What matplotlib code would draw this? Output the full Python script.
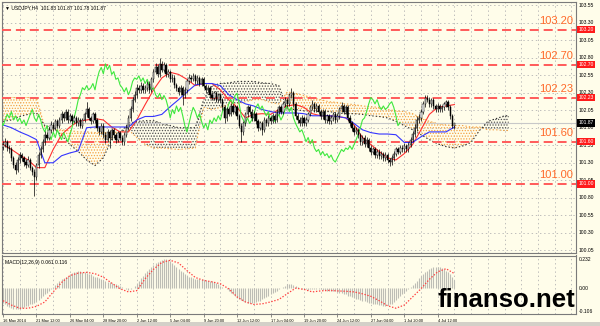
import matplotlib
matplotlib.use("Agg")
import numpy as np
import matplotlib.pyplot as plt
import matplotlib.transforms as mtransforms

plt.rcParams['font.family'] = ['Liberation Sans', 'DejaVu Sans']
plt.rcParams['hatch.linewidth'] = 0.6
plt.rcParams['lines.scale_dashes'] = False

# ---- USDJPY H4, values ----
first_open = 101.52
closes = [101.56, 101.60, 101.51, 101.49, 101.37, 101.27, 101.20, 101.34, 101.41, 101.37,
          101.31, 101.27, 101.34, 101.23, 101.17, 101.09, 101.27, 101.41, 101.49, 101.60,
          101.70, 101.66, 101.77, 101.84, 101.80, 101.89, 101.83, 101.91, 101.99, 101.94,
          102.03, 101.91, 101.97, 101.89, 101.94, 101.86, 101.91, 101.83, 101.91, 101.99,
          102.06, 101.94, 101.89, 101.99, 101.91, 101.80, 101.74, 101.83, 101.70, 101.63,
          101.74, 101.66, 101.77, 101.69, 101.63, 101.73, 101.66, 101.60, 101.70, 101.80,
          101.94, 102.06, 102.20, 102.27, 102.37, 102.34, 102.40, 102.34, 102.37, 102.43,
          102.34, 102.49, 102.60, 102.66, 102.57, 102.71, 102.63, 102.69, 102.56, 102.60,
          102.49, 102.51, 102.41, 102.37, 102.31, 102.37, 102.27, 102.34, 102.46, 102.51,
          102.49, 102.54, 102.46, 102.51, 102.43, 102.49, 102.40, 102.34, 102.37, 102.27,
          102.23, 102.29, 102.20, 102.26, 102.20, 102.09, 101.94, 102.06, 102.00, 102.11,
          102.03, 102.09, 101.97, 101.83, 101.74, 101.86, 101.99, 102.09, 102.03, 101.94,
          102.00, 101.89, 101.80, 101.86, 101.77, 101.91, 101.86, 101.94, 101.89, 101.97,
          101.91, 102.03, 102.09, 102.03, 102.14, 102.20, 102.14, 102.26, 102.29, 102.14,
          101.97, 101.91, 101.86, 101.94, 101.86, 101.91, 101.99, 102.09, 102.14, 102.06,
          102.11, 102.03, 101.97, 102.03, 101.91, 101.97, 101.89, 101.94, 101.99, 101.91,
          101.97, 102.06, 102.11, 102.03, 102.09, 101.94, 101.86, 101.80, 101.74, 101.77,
          101.69, 101.60, 101.66, 101.57, 101.63, 101.51, 101.46, 101.49, 101.41, 101.46,
          101.40, 101.43, 101.37, 101.41, 101.34, 101.31, 101.37, 101.43, 101.49, 101.46,
          101.51, 101.49, 101.54, 101.49, 101.56, 101.63, 101.71, 101.80, 101.91, 101.94,
          102.03, 102.14, 102.23, 102.20, 102.14, 102.20, 102.11, 102.06, 102.11, 102.06,
          102.09, 102.14, 102.17, 102.09, 101.97, 101.83, 101.87]
highs = [101.61, 101.66, 101.63, 101.55, 101.52, 101.40, 101.31, 101.38, 101.45, 101.44,
         101.40, 101.35, 101.39, 101.37, 101.26, 101.21, 101.30, 101.45, 101.54, 101.64,
         101.75, 101.74, 101.81, 101.89, 101.88, 101.93, 101.92, 101.95, 102.04, 102.02,
         102.07, 102.06, 102.01, 102.00, 101.98, 101.97, 101.95, 101.94, 101.94, 102.03,
         102.17, 102.09, 101.97, 102.03, 102.02, 101.94, 101.83, 101.87, 101.86, 101.74,
         101.78, 101.77, 101.80, 101.79, 101.72, 101.76, 101.76, 101.69, 101.74, 101.84,
         101.98, 102.11, 102.24, 102.33, 102.42, 102.41, 102.45, 102.44, 102.41, 102.47,
         102.47, 102.53, 102.64, 102.72, 102.70, 102.80, 102.75, 102.73, 102.72, 102.64,
         102.63, 102.56, 102.55, 102.44, 102.40, 102.41, 102.40, 102.38, 102.50, 102.56,
         102.55, 102.58, 102.57, 102.55, 102.54, 102.53, 102.52, 102.43, 102.41, 102.40,
         102.31, 102.33, 102.32, 102.30, 102.29, 102.23, 102.12, 102.10, 102.09, 102.15,
         102.14, 102.13, 102.12, 102.00, 101.87, 101.90, 102.03, 102.13, 102.12, 102.06,
         102.04, 102.03, 101.92, 101.89, 101.89, 101.95, 101.94, 101.98, 101.97, 102.01,
         102.00, 102.07, 102.13, 102.12, 102.18, 102.24, 102.23, 102.30, 102.37, 102.32,
         102.17, 102.01, 101.95, 101.98, 101.97, 101.95, 102.03, 102.13, 102.20, 102.17,
         102.15, 102.14, 102.06, 102.07, 102.06, 102.00, 102.00, 101.98, 102.03, 102.02,
         102.01, 102.10, 102.17, 102.14, 102.13, 102.12, 101.98, 101.90, 101.84, 101.81,
         101.80, 101.72, 101.70, 101.69, 101.67, 101.66, 101.55, 101.53, 101.52, 101.50,
         101.49, 101.47, 101.46, 101.45, 101.44, 101.37, 101.41, 101.47, 101.53, 101.52,
         101.55, 101.55, 101.58, 101.57, 101.60, 101.67, 101.75, 101.85, 101.96, 101.99,
         102.07, 102.18, 102.27, 102.26, 102.24, 102.23, 102.23, 102.14, 102.15, 102.14,
         102.12, 102.17, 102.20, 102.19, 102.12, 102.00, 101.87]
lows = [101.48, 101.52, 101.47, 101.44, 101.33, 101.22, 101.14, 101.17, 101.30, 101.33,
        101.26, 101.22, 101.24, 101.19, 101.12, 100.83, 101.05, 101.23, 101.37, 101.45,
        101.56, 101.62, 101.62, 101.73, 101.76, 101.77, 101.79, 101.80, 101.87, 101.90,
        101.91, 101.87, 101.88, 101.85, 101.86, 101.82, 101.83, 101.79, 101.80, 101.88,
        101.95, 101.91, 101.85, 101.86, 101.87, 101.76, 101.69, 101.71, 101.66, 101.58,
        101.60, 101.51, 101.63, 101.65, 101.58, 101.60, 101.62, 101.56, 101.56, 101.67,
        101.77, 101.90, 102.02, 102.16, 102.22, 102.30, 102.30, 102.30, 102.30, 102.33,
        102.30, 102.31, 102.45, 102.56, 102.53, 102.53, 102.59, 102.59, 102.52, 102.52,
        102.45, 102.45, 102.37, 102.33, 102.26, 102.27, 102.12, 102.23, 102.30, 102.42,
        102.45, 102.46, 102.42, 102.43, 102.39, 102.40, 102.36, 102.30, 102.31, 102.23,
        102.19, 102.20, 102.16, 102.17, 102.16, 102.05, 101.86, 101.90, 101.96, 101.97,
        101.99, 101.99, 101.93, 101.79, 101.60, 101.70, 101.82, 101.95, 101.99, 101.90,
        101.90, 101.85, 101.76, 101.77, 101.70, 101.74, 101.82, 101.82, 101.85, 101.86,
        101.87, 101.88, 101.99, 101.99, 101.99, 102.10, 102.10, 102.11, 102.22, 102.10,
        101.92, 101.87, 101.82, 101.82, 101.82, 101.83, 101.88, 101.96, 102.05, 102.02,
        102.02, 101.99, 101.93, 101.93, 101.87, 101.87, 101.85, 101.85, 101.90, 101.87,
        101.88, 101.93, 102.02, 101.99, 101.99, 101.90, 101.82, 101.76, 101.70, 101.71,
        101.65, 101.55, 101.56, 101.53, 101.53, 101.47, 101.41, 101.42, 101.37, 101.37,
        101.36, 101.36, 101.33, 101.33, 101.30, 101.25, 101.27, 101.33, 101.40, 101.42,
        101.42, 101.45, 101.45, 101.45, 101.46, 101.52, 101.59, 101.67, 101.76, 101.86,
        101.90, 101.99, 102.10, 102.16, 102.10, 102.10, 102.07, 102.02, 102.02, 102.02,
        102.02, 102.05, 102.10, 102.05, 101.93, 101.80, 101.78]

# Ichimoku lines, sampled every 4th bar
line_bars = list(range(0, 217, 4))
tenkan = [101.56, 101.49, 101.41, 101.34, 101.23, 101.23, 101.49, 101.70, 101.81, 101.89,
          101.91, 101.93, 101.91, 101.81, 101.74, 101.74, 101.91, 102.13, 102.34, 102.51,
          102.59, 102.56, 102.49, 102.40, 102.43, 102.43, 102.34, 102.20, 102.09, 101.94,
          101.99, 102.00, 101.99, 102.06, 102.11, 102.13, 102.09, 102.00, 101.97, 101.97,
          101.96, 101.94, 101.84, 101.66, 101.56, 101.46, 101.37, 101.34, 101.43, 101.56,
          101.77, 101.99, 102.09, 102.11, 102.13]
kijun = [101.84, 101.80, 101.74, 101.69, 101.63, 101.30, 101.30, 101.40, 101.44, 101.47,
         101.80, 101.81, 101.81, 101.81, 101.81, 101.81, 101.91, 101.96, 101.96, 101.99,
         102.10, 102.20, 102.31, 102.41, 102.43, 102.43, 102.40, 102.27, 102.20, 102.14,
         102.11, 102.06, 102.03, 102.01, 102.01, 102.01, 102.00, 101.97, 101.97, 101.97,
         101.96, 101.94, 101.86, 101.77, 101.73, 101.71, 101.71, 101.70, 101.59, 101.59,
         101.67, 101.74, 101.74, 101.74, 101.81]
chikou_shift = 26

cloud_bars = list(range(0, 241, 4)) + [242]
span_a = [102.23, 102.23, 102.23, 102.23, 102.23, 101.80, 101.77, 101.77, 101.76, 101.74,
          101.74, 101.73, 101.73, 101.73, 101.74, 101.77, 101.66, 101.56, 101.51, 101.51,
          101.50, 101.49, 101.50, 101.51, 102.09, 102.06, 102.09, 102.13, 102.14, 102.17,
          102.20, 102.20, 102.16, 102.14, 102.31, 102.29, 102.26, 102.23, 102.20, 102.17,
          102.16, 102.14, 102.13, 102.11, 102.10, 102.09, 102.06, 102.04, 102.03, 102.00,
          101.94, 101.89, 101.86, 101.84, 101.83, 101.83, 101.81, 101.81, 101.77, 101.77,
          101.76, 101.76]
span_b = [101.89, 101.91, 101.96, 101.99, 102.01, 101.83, 101.80, 101.69, 101.56, 101.46,
          101.34, 101.26, 101.37, 101.63, 101.73, 101.86, 101.89, 101.90, 101.90, 101.86,
          101.83, 101.80, 101.80, 101.80, 102.20, 102.40, 102.43, 102.44, 102.46, 102.46,
          102.46, 102.44, 102.43, 102.40, 102.06, 102.06, 102.04, 102.04, 102.03, 102.03,
          102.01, 102.00, 102.00, 101.99, 101.97, 101.96, 101.94, 101.89, 101.83, 101.77,
          101.70, 101.63, 101.57, 101.53, 101.51, 101.54, 101.59, 101.76, 101.89, 101.93,
          101.97, 101.97]

# MACD(12,26,9)
macd_main = [-0.12, -0.13, -0.14, -0.15, -0.16, -0.165, -0.17, -0.165, -0.16, -0.155,
             -0.15, -0.145, -0.14, -0.13, -0.125, -0.12, -0.11, -0.095, -0.08, -0.065,
             -0.05, -0.035, -0.02, -0.005, 0.01, 0.025, 0.04, 0.055, 0.07, 0.08,
             0.09, 0.10, 0.11, 0.12, 0.125, 0.13, 0.135, 0.135, 0.13, 0.125,
             0.12, 0.115, 0.11, 0.10, 0.09, 0.085, 0.08, 0.07, 0.065, 0.06,
             0.05, 0.045, 0.04, 0.035, 0.03, 0.025, 0.02, 0.01, 0.0, -0.01,
             -0.015, -0.01, 0.0, 0.02, 0.04, 0.06, 0.08, 0.10, 0.12, 0.14,
             0.155, 0.17, 0.185, 0.20, 0.21, 0.22, 0.225, 0.23, 0.23, 0.225,
             0.215, 0.20, 0.185, 0.17, 0.155, 0.14, 0.125, 0.11, 0.10, 0.09,
             0.085, 0.08, 0.075, 0.075, 0.07, 0.07, 0.065, 0.065, 0.06, 0.06,
             0.055, 0.05, 0.04, 0.03, 0.02, 0.01, 0.0, -0.01, -0.02, -0.035,
             -0.05, -0.06, -0.075, -0.085, -0.095, -0.10, -0.11, -0.115, -0.12, -0.12,
             -0.115, -0.11, -0.105, -0.10, -0.09, -0.08, -0.07, -0.06, -0.05, -0.04,
             -0.03, -0.02, -0.01, 0.0, 0.01, 0.02, 0.03, 0.035, 0.03, 0.025,
             0.02, 0.01, 0.0, -0.005, -0.01, -0.01, -0.015, -0.01, -0.01, -0.005,
             -0.005, -0.01, -0.01, -0.015, -0.015, -0.02, -0.02, -0.02, -0.025, -0.025,
             -0.03, -0.035, -0.04, -0.045, -0.05, -0.06, -0.065, -0.07, -0.08, -0.085,
             -0.09, -0.095, -0.10, -0.105, -0.11, -0.115, -0.12, -0.125, -0.13, -0.13,
             -0.135, -0.135, -0.14, -0.14, -0.135, -0.13, -0.125, -0.11, -0.095, -0.08,
             -0.065, -0.05, -0.035, -0.02, -0.005, 0.01, 0.025, 0.04, 0.06, 0.08,
             0.10, 0.115, 0.13, 0.14, 0.15, 0.16, 0.165, 0.17, 0.17, 0.165,
             0.16, 0.15, 0.14, 0.125, 0.11, 0.09, 0.061]
macd_signal = [-0.10, -0.135, -0.16, -0.16, -0.145, -0.11, -0.03, 0.045, 0.10, 0.12,
               0.126, 0.115, 0.087, 0.04, -0.005, -0.03, -0.02, 0.075, 0.15, 0.205,
               0.222, 0.20, 0.14, 0.085, 0.062, 0.05, 0.035, -0.005, -0.07, -0.11,
               -0.13, -0.125, -0.11, -0.09, -0.045, 0.0, -0.01, -0.03, -0.022, -0.018,
               -0.022, -0.025, -0.03, -0.045, -0.065, -0.10, -0.14, -0.16, -0.135, -0.07,
               -0.005, 0.07, 0.13, 0.155, 0.116]

levels = [103.20, 102.70, 102.23, 101.60, 101.00]
level_labels = ["103.20", "102.70", "102.23", "101.60", "101.00"]
current_price = 101.87
price_ticks = [103.55, 103.30, 103.05, 102.80, 102.55, 102.30, 102.05, 101.80,
               101.55, 101.30, 101.05, 100.80, 100.55, 100.30, 100.05]
time_label_bars = [0, 16, 32, 48, 64, 80, 96, 112, 128, 144, 160, 176, 192, 208]
time_labels = ["16 May 2014", "21 May 12:00", "26 May 04:00", "28 May 20:00", "2 Jun 12:00",
               "5 Jun 04:00", "9 Jun 20:00", "12 Jun 12:00", "17 Jun 04:00", "19 Jun 20:00",
               "24 Jun 12:00", "27 Jun 04:00", "1 Jul 20:00", "4 Jul 12:00"]
macd_ticks = [0.232, 0.0]
macd_tick_labels = ["0.232", "0.00"]
macd_min_label = "-0.106"

BG = '#fffdea'
GRID = '#b4b4b4'
LEVEL = '#ff5a5a'
LEVEL_TXT = '#ff6a2a'
SMALL = 3.6
DATE_FS = 2.8

W, H = 600, 326
fig = plt.figure(figsize=(W / 100, H / 100), dpi=100, facecolor=BG)
ax = fig.add_axes([2 / W, 1 - 252.5 / H, 574 / W, 251 / H], facecolor=BG)
axm = fig.add_axes([2 / W, 1 - 314 / H, 574 / W, 58.5 / H], facecolor=BG)

n = len(closes)
bars = np.arange(n)
opens = np.array([first_open] + closes[:-1])
closes_a = np.array(closes)

# grid
for a in (ax, axm):
    for b in range(0, 280, 8):
        a.axvline(b, color=GRID, lw=0.6, ls=(0, (1, 2)), zorder=0)
for p in price_ticks:
    ax.axhline(p, color=GRID, lw=0.6, ls=(0, (1, 2)), zorder=0)

# cloud
ca = np.array(span_a)
cb = np.array(span_b)
ax.fill_between(cloud_bars, ca, cb, where=ca >= cb, interpolate=True, facecolor='none',
                edgecolor='#f4a345', hatch='.' * 6, linewidth=0, zorder=1)
ax.fill_between(cloud_bars, ca, cb, where=ca < cb, interpolate=True, facecolor='none',
                edgecolor='#505050', hatch='.' * 6, linewidth=0, zorder=1)
ax.plot(cloud_bars, span_a, color='#f4a345', lw=0.8, ls=(0, (1, 1.5)), zorder=2)
ax.plot(cloud_bars, span_b, color='#303030', lw=0.8, ls=(0, (1, 1.5)), zorder=2)

# levels
for lv, lab in zip(levels, level_labels):
    ax.axhline(lv, color=LEVEL, lw=1.4, ls=(0, (6.5, 3.5)), zorder=3)
    ax.annotate(lab, xy=(0.995, lv), xycoords=('axes fraction', 'data'),
                xytext=(0, 2.5), textcoords='offset points', ha='right', va='bottom',
                color=LEVEL_TXT, fontsize=8)
ax.axhline(current_price, color='#c8c8c8', lw=0.8, zorder=2)

# candles
up = closes_a >= opens
ax.vlines(bars, lows, highs, color='black', lw=0.5, zorder=5)
body_lo = np.minimum(opens, closes_a)
body_h = np.maximum(np.abs(closes_a - opens), 0.006)
ax.bar(bars[up], body_h[up], bottom=body_lo[up], width=0.6, color='white',
       edgecolor='black', linewidth=0.35, zorder=6)
ax.bar(bars[~up], body_h[~up], bottom=body_lo[~up], width=0.6, color='black',
       edgecolor='black', linewidth=0.35, zorder=6)

# ichimoku lines
ax.plot(line_bars, tenkan, color='#ff3030', lw=0.8, zorder=4)
ax.plot(line_bars, kijun, color='#3535ff', lw=0.8, zorder=4)
ax.plot(bars - chikou_shift, closes, color='#3ee83e', lw=0.8, zorder=4)

ax.set_xlim(-0.5, 274.2)
ax.set_ylim(100.02, 103.60)
ax.set_xticks([])
ax.set_yticks([])

# right price scale
tr = mtransforms.blended_transform_factory(ax.transAxes, ax.transData)
for p in price_ticks:
    ax.text(1.004, p, f"{p:.2f}", transform=tr, fontsize=SMALL, va='center', ha='left')
for lv, lab in zip(levels, level_labels):
    ax.text(1.004, lv, lab, transform=tr, fontsize=SMALL, va='center', ha='left',
            color='white', zorder=10,
            bbox=dict(boxstyle='square,pad=0.25', fc='#ff1a1a', ec='none'))
ax.text(1.004, current_price, f"{current_price:.2f}", transform=tr, fontsize=SMALL,
        va='center', ha='left', color='white', zorder=10,
        bbox=dict(boxstyle='square,pad=0.25', fc='black', ec='none'))

ax.text(0.005, 0.985, "\u25bc USDJPY,H4  101.83 101.87 101.78 101.87", transform=ax.transAxes,
        fontsize=SMALL, va='top', ha='left')

# MACD
axm.vlines(bars, 0, macd_main, color='#bdbdb5', lw=0.8, zorder=2)
axm.plot(line_bars, macd_signal, color='#ff4040', lw=0.9, ls=(0, (1, 1.2)), zorder=3)
axm.set_xlim(-0.5, 274.2)
axm.set_ylim(-0.206, 0.26)
axm.set_yticks([])
trm = mtransforms.blended_transform_factory(axm.transAxes, axm.transData)
for v, lab in zip(macd_ticks, macd_tick_labels):
    axm.text(1.004, v, lab, transform=trm, fontsize=SMALL, va='center', ha='left')
axm.text(1.004, 0.05, macd_min_label, transform=axm.transAxes, fontsize=SMALL,
         va='center', ha='left')
axm.text(0.005, 0.93, "MACD(12,26,9) 0.061 0.116", transform=axm.transAxes,
         fontsize=SMALL, va='top', ha='left')

axm.set_xticks(time_label_bars)
axm.set_xticklabels(time_labels, fontsize=DATE_FS, ha='left')
axm.tick_params(axis='x', length=2, width=0.5, pad=1.5, color='#606060')

for a in (ax, axm):
    for s in a.spines.values():
        s.set_color('#7a7a7a')
        s.set_linewidth(0.8)

# watermark and bottom strip
fig.text(575 / W, 1 - 307 / H, "finanso.net", ha='right', va='baseline', fontsize=18.5,
         fontweight='bold', color='black')
fig.patches.append(plt.Rectangle((0, 0), 1, 4 / H, transform=fig.transFigure,
                                 facecolor='#d4d0c8', edgecolor='none'))

fig.savefig("out.png", dpi=100, facecolor=BG)
